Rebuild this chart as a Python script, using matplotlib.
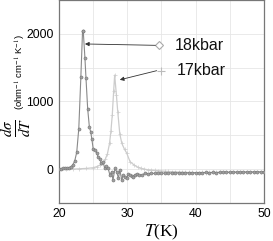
import matplotlib
matplotlib.use("Agg")
import matplotlib.pyplot as plt

plt.rcParams["font.family"] = ["Liberation Sans", "DejaVu Sans"]
plt.rcParams["mathtext.fontset"] = "stix"

# 18 kbar: dsigma/dT vs T
t_18 = [20.0, 20.3, 20.6, 20.9, 21.2, 21.5, 21.8, 22.0, 22.3, 22.6,
        22.9, 23.2, 23.45, 23.55, 23.8, 23.95, 24.2, 24.45, 24.65, 24.8,
        25.0, 25.3, 25.5, 25.75, 26.0, 26.2, 26.45, 26.7, 26.95, 27.2,
        27.45, 27.7, 27.9, 28.2, 28.45, 28.7, 28.9, 29.2, 29.4, 29.65,
        29.9, 30.15, 30.4, 30.65, 30.9, 31.15, 31.4, 31.7, 32.1, 32.6,
        33.0, 33.5, 34.0, 34.5, 35.0, 35.5, 36.0, 36.5, 37.0, 37.5,
        38.0, 38.5, 39.0, 39.5, 40.0, 40.5, 41.0, 41.5, 42.0, 42.5,
        43.0, 43.5, 44.0, 44.5, 45.0, 45.5, 46.0, 46.5, 47.0, 47.5,
        48.0, 48.5, 49.0, 49.5, 50.0]
s_18 = [8, 8, 10, 12, 15, 22, 38, 59, 118, 250,
        598, 1355, 2040, 2045, 1640, 1350, 892, 622, 548, 451,
        304, 279, 240, 180, 150, 84, 107, 10, 40, 10,
        -88, -40, -160, 10, -40, -137, -15, -162, -88, -110,
        -137, -70, -88, -100, -113, -80, -73, -85, -88, -63,
        -66, -62, -64, -60, -62, -58, -60, -57, -58, -55,
        -56, -54, -55, -53, -54, -52, -53, -50, -52, -50,
        -51, -49, -50, -47, -48, -44, -46, -45, -46, -43,
        -44, -42, -43, -41, -40]

# 17 kbar
t_17 = [20.0, 21.0, 22.0, 23.0, 24.0, 25.0, 25.5, 26.0, 26.5, 26.8,
        27.1, 27.4, 27.6, 27.8, 28.0, 28.15, 28.4, 28.6, 28.9, 29.2,
        29.6, 29.9, 30.4, 31.0, 31.5, 32.0, 32.5, 33.0, 33.5, 34.0,
        34.5, 35.0, 35.5, 36.0, 36.5, 37.0, 37.5, 38.0, 38.5, 39.0,
        39.5, 40.0, 40.5, 41.0, 41.5, 42.0, 42.5, 43.0, 43.5, 44.0,
        44.5, 45.0, 45.5, 46.0, 46.5, 47.0, 47.5, 48.0, 48.5, 49.0,
        49.5, 50.0]
s_17 = [-5, -3, 0, 5, 10, 20, 35, 59, 100, 150,
        230, 380, 560, 800, 1150, 1390, 1100, 850, 520, 380,
        290, 240, 110, 60, 30, 12, 0, -10, -15, -20,
        -24, -28, -32, -35, -38, -40, -44, -46, -48, -50,
        -50, -52, -51, -50, -51, -49, -50, -48, -47, -46,
        -45, -44, -45, -44, -43, -44, -42, -43, -41, -41,
        -40, -40]

labels = ["18kbar", "17kbar"]
peaks = [(23.8, 1850), (28.9, 1320)]
label_pos = [(34.7, 1830), (34.9, 1455)]

fig = plt.figure(figsize=(2.73, 2.41), dpi=100)
ax = fig.add_axes([0.216, 0.158, 0.751, 0.842])

ax.plot(t_17, s_17, color="#cccccc", lw=0.9, marker="+", ms=2.5, mew=0.5, zorder=2)
ax.plot(t_18, s_18, color="#8a8a8a", lw=0.8, marker="o", ms=2.2,
        mfc="#a0a0a0", mec="#757575", mew=0.4, zorder=3)

# label markers + arrows
ax.plot(*label_pos[0], marker="D", ms=4.5, mfc="white", mec="#aaaaaa", mew=0.8)
ax.plot(*label_pos[1], marker="+", ms=6, mec="#bbbbbb", mew=0.8)
for (px, py), (lx, ly), lab in zip(peaks, label_pos, labels):
    ax.annotate("", xy=(px, py), xytext=(lx - 0.6, ly),
                arrowprops=dict(arrowstyle="-|>", color="#333333", lw=0.6,
                                mutation_scale=6, shrinkA=0, shrinkB=0))
    ax.text(lx + 2.3, ly, lab, fontsize=11.5, va="center", ha="left", color="#111111")

ax.set_xlim(20, 50)
ax.set_ylim(-500, 2500)
ax.set_xticks([20, 30, 40, 50])
ax.set_yticks([0, 1000, 2000])
ax.set_xticks([25, 35, 45], minor=True)
ax.set_yticks([-500, 500, 1500, 2500], minor=True)
ax.grid(True, which="both", color="#e6e6e6", lw=0.6)
ax.set_axisbelow(True)
ax.tick_params(which="both", length=0, labelsize=8.8, pad=4)
for sp in ax.spines.values():
    sp.set_color("#777777")
    sp.set_linewidth(0.9)

ax.set_xlabel(r"$T$(K)", fontsize=12.5, fontfamily="Liberation Serif", labelpad=2)

fig.text(0.062, 0.47, r"$\frac{d\sigma}{dT}$", rotation=90, fontsize=15.5,
         ha="center", va="center")
fig.text(0.078, 0.70, r"(ohm$^{-1}$ cm$^{-1}$ K$^{-1}$)", rotation=90, fontsize=6.8,
         ha="center", va="center")

fig.savefig("out.png", dpi=100)
